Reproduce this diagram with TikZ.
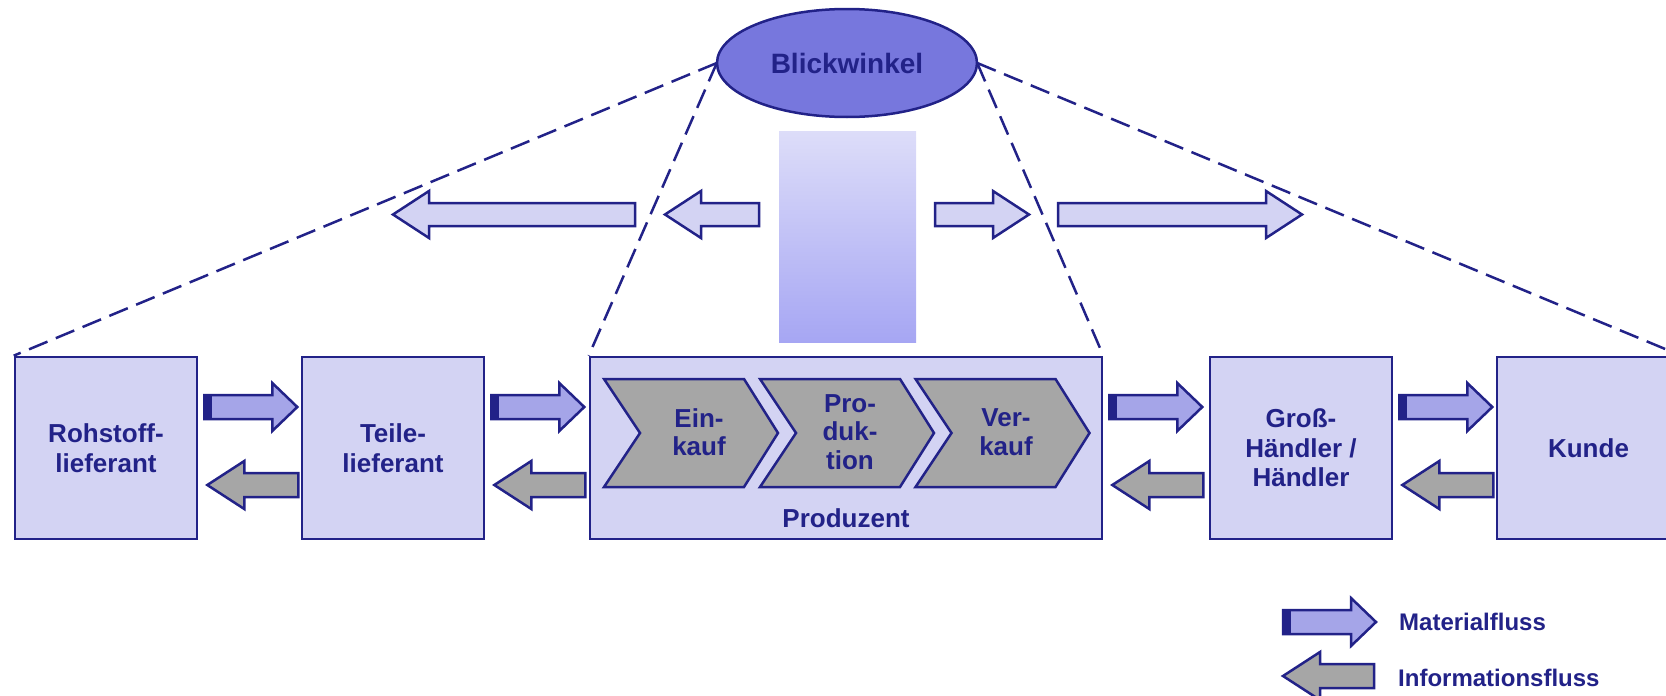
\documentclass[tikz,border=0pt]{standalone}
\usepackage{fontspec}
\setmainfont{Liberation Sans}
\usetikzlibrary{shapes.geometric}

\definecolor{navy}{HTML}{222288}
\definecolor{boxfill}{HTML}{D3D3F3}
\definecolor{matfill}{HTML}{A5A5E8}
\definecolor{infofill}{HTML}{A6A6A6}
\definecolor{lensfill}{HTML}{7777DD}
\definecolor{gradtop}{HTML}{DDDDF9}
\definecolor{gradbot}{HTML}{A6A6F3}

\tikzset{
  boldtext/.style={text=navy, font=\fontsize{26}{29.5}\selectfont\bfseries, align=center, inner sep=0pt},
  stage/.style={boldtext, draw=navy, line width=2.6pt, fill=boxfill,
                minimum width=182pt, minimum height=182pt},
  sightline/.style={draw=navy, line width=2.5pt, dash pattern=on 20pt off 9pt},
  matarrow/.style={draw=navy, line width=2.5pt, fill=matfill},
  infoarrow/.style={draw=navy, line width=2.5pt, fill=infofill},
  viewarrow/.style={draw=navy, line width=2.5pt, fill=boxfill},
  phase/.style={draw=navy, line width=2.5pt, fill=infofill},
  % material flow: block arrow pointing right, dark bar at its tail
  pics/matflow/.style={code={
    \draw[matarrow] (0,-12) -- (68,-12) -- (68,-24) -- (93,0) -- (68,24)
                    -- (68,12) -- (0,12) -- cycle;
    \fill[navy] (-1.2,-13.2) rectangle (8,13.2);
  }},
  % information flow: block arrow pointing left
  pics/infoflow/.style={code={
    \draw[infoarrow] (0,0) -- (37,-24) -- (37,-12) -- (91,-12) -- (91,12)
                     -- (37,12) -- (37,24) -- cycle;
  }},
  % wide arrows under the viewpoint, length as argument
  pics/viewflow/.style={code={
    \draw[viewarrow] (0,-11.5) -- ({#1-36},-11.5) -- ({#1-36},-23.5) -- (#1,0)
                     -- ({#1-36},23.5) -- ({#1-36},11.5) -- (0,11.5) -- cycle;
  }},
}

\begin{document}
\begin{tikzpicture}[x=1pt, y=-1pt]
\useasboundingbox (0,0) rectangle (1666,696);

% supply chain stages
\node[stage] (roh)   at (106,448)    {Rohstoff-\\lieferant};
\node[stage] (teile) at (393,448)    {Teile-\\lieferant};
\node[stage, minimum width=512pt] (prod) at (846,448) {};
\node[stage] (gross) at (1301,448)   {Groß-\\Händler /\\Händler};
\node[stage, minimum width=183pt] (kunde) at (1588.5,448) {Kunde};

% viewpoint and its sight lines
\node[ellipse, minimum width=260pt, minimum height=108pt, inner sep=0pt] (view) at (847,63) {};
\draw[sightline] (view.west) -- (roh.north west);
\draw[sightline] (view.west) -- (prod.north west);
\draw[sightline] (view.east) -- (prod.north east);
\draw[sightline] (view.east) -- (kunde.north east);
\node[ellipse, draw=navy, line width=2.5pt, fill=lensfill, minimum width=260pt,
      minimum height=108pt, boldtext, font=\fontsize{28}{30}\selectfont\bfseries] at (view) {Blickwinkel};

% focus beam
\shade[top color=gradtop, bottom color=gradbot] (779,131) rectangle (916,342);

% outward arrows
\pic[rotate=180] at (635,214.5) {viewflow=242};
\pic[rotate=180] at (759,214.5) {viewflow=94};
\pic at (935,214.5) {viewflow=94};
\pic at (1058,214.5) {viewflow=244};

% flows between neighbouring stages
\foreach \a in {roh, teile, prod, gross} {
  \pic at ([shift={(6,-41)}]\a.east) {matflow};
  \pic at ([shift={(9,37)}]\a.east) {infoflow};
}

% internal phases of the producer
\foreach \l/\tx/\name/\txt in {604/699/ein/{Ein-\\kauf}, 760/850/prodk/{Pro-\\duk-\\tion}, 915.5/1006/verk/{Ver-\\kauf}} {
  \draw[phase] (\l,379) -- (\l+140,379) -- (\l+174,433) -- (\l+140,487)
               -- (\l,487) -- (\l+36,433) -- cycle;
  \node[boldtext, font=\fontsize{26}{28.5}\selectfont\bfseries] (\name) at (\tx,432) {\txt};
}
\node[boldtext] (prodlabel) at (846,518) {Produzent};

% legend
\pic at (1283,622) {matflow};
\pic at (1283,676) {infoflow};
\node[boldtext, font=\fontsize{24}{28}\selectfont\bfseries, anchor=west] (legmat) at (1399,622) {Materialfluss};
\node[boldtext, font=\fontsize{24}{28}\selectfont\bfseries, anchor=west] (leginfo) at (1398,678) {Informationsfluss};
\end{tikzpicture}
\end{document}
